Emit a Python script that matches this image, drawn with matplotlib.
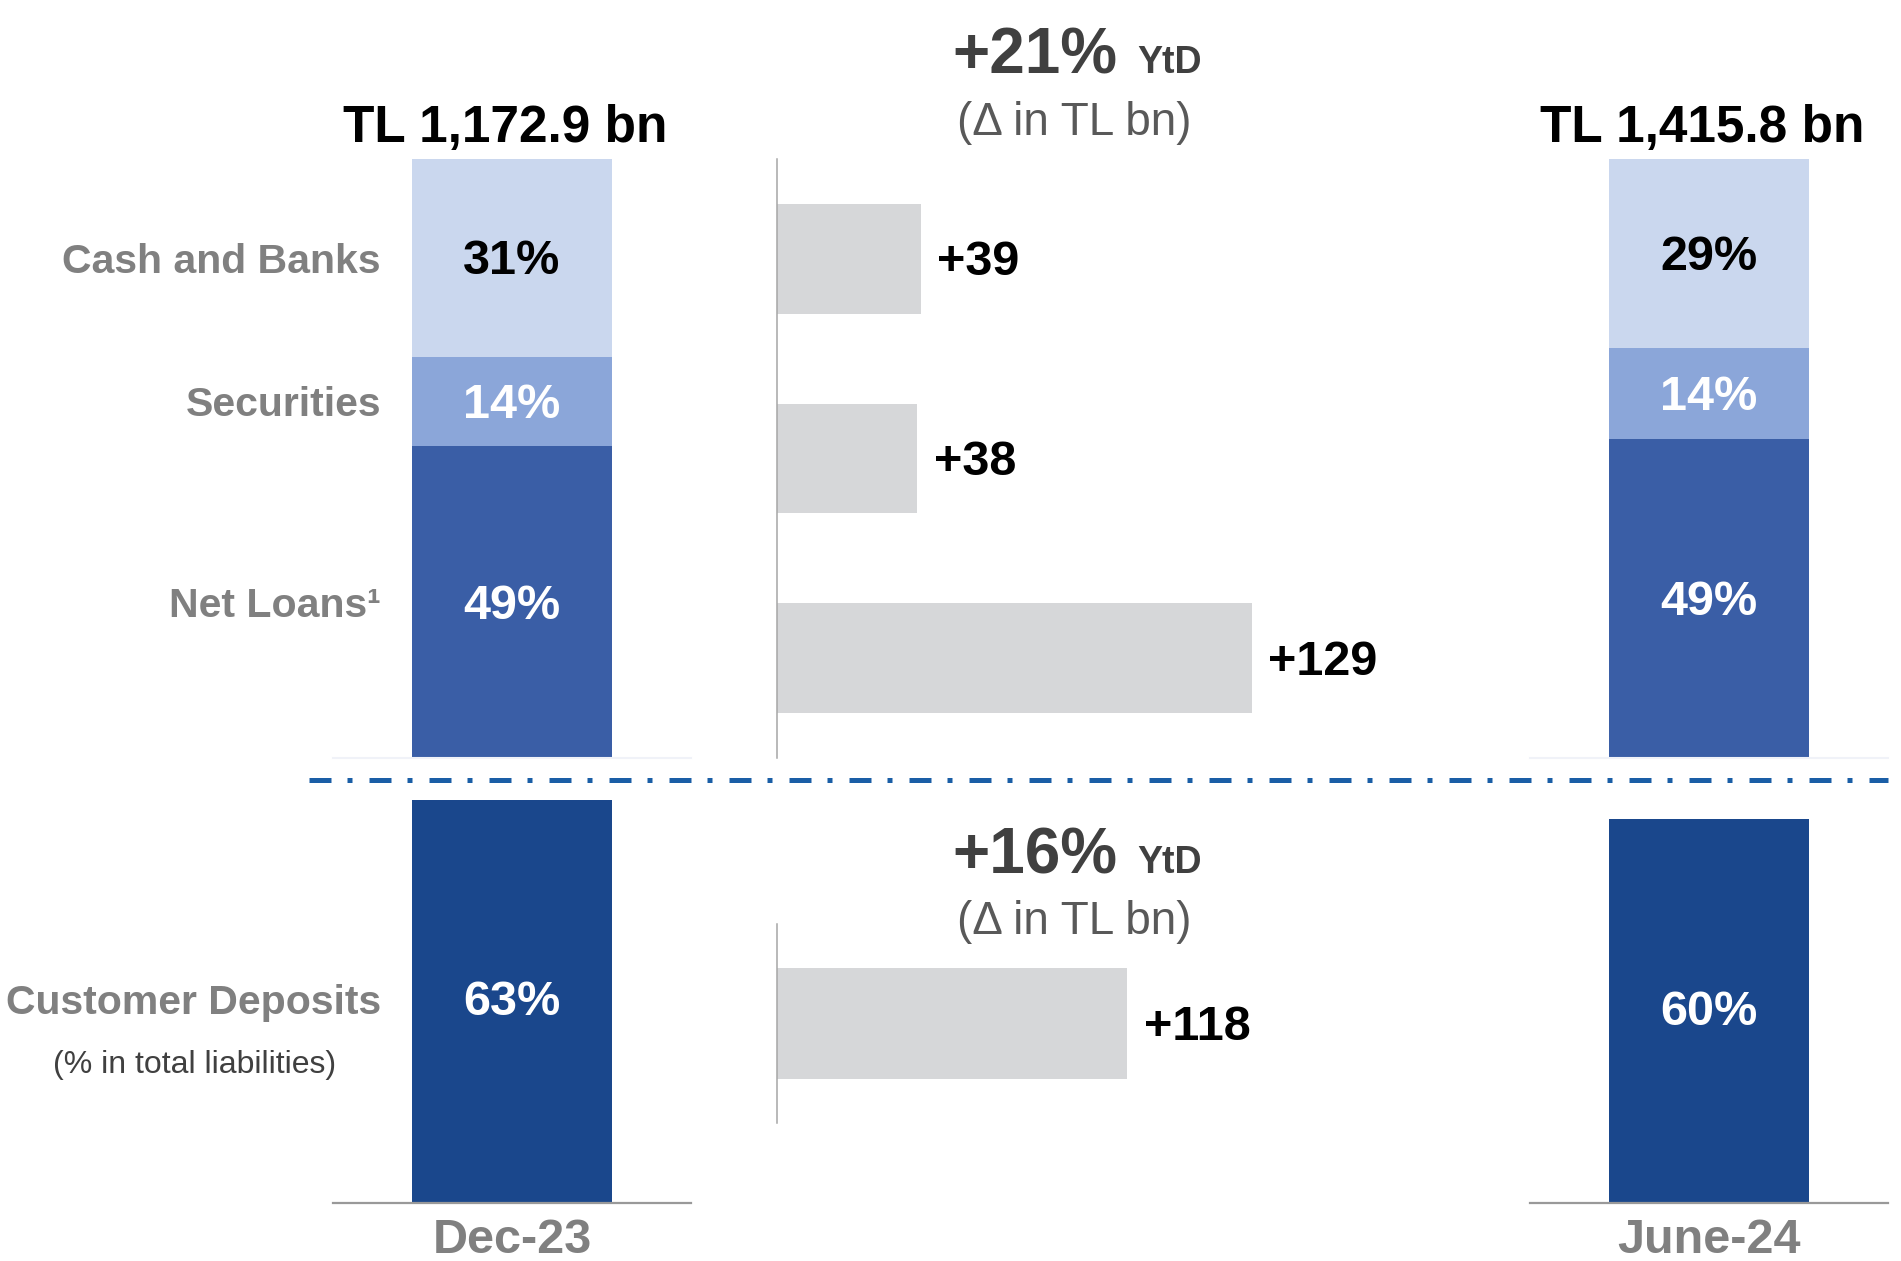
import matplotlib.pyplot as plt
from matplotlib.lines import Line2D

# values
periods = ['Dec-23', 'June-24']
totals = ['TL 1,172.9 bn', 'TL 1,415.8 bn']
asset_labels = ['Net Loans¹', 'Securities', 'Cash and Banks']   # bottom -> top
net_loans = [49, 49]
securities = [14, 14]
cash = [31, 29]
deposits = [63, 60]
asset_change = [39, 38, 129]        # cash, securities, loans (top -> bottom)
deposit_change = [118]
asset_growth = '+21%'
deposit_growth = '+16%'

W, H = 1901, 1261
fig = plt.figure(figsize=(W / 100, H / 100), dpi=100)

FONT = ['Liberation Sans', 'DejaVu Sans']

seg_colors = ['#3A5EA6', '#8BA6D9', '#CAD7EE']
seg_text = ['white', 'white', 'black']
dep_color = '#1A478C'
delta_color = '#D6D7D9'
label_gray = '#808080'
DY = -3  # nudge numbers down a bit (points)


def box(x0, y0, x1, y1):
    # pixel box (top-left origin) -> figure fraction rect
    return [x0 / W, 1 - y1 / H, (x1 - x0) / W, (y1 - y0) / H]


def clean(ax, keep=()):
    for name, sp in ax.spines.items():
        sp.set_visible(name in keep)
    ax.set_xticks([])
    ax.set_yticks([])


# upper stacked bars (asset mix)
for i, x0 in enumerate([333, 1530]):
    ax = fig.add_axes(box(x0, 159, x0 + 358, 758))
    vals = [net_loans[i], securities[i], cash[i]]
    bottom = 0
    for v, c, tc, lab in zip(vals, seg_colors, seg_text, asset_labels):
        ax.bar(0.5, v, width=0.56, bottom=bottom, color=c)
        ax.annotate(f'{v}%', xy=(0.5, bottom + v / 2), xytext=(0, DY),
                    textcoords='offset points', ha='center', va='center',
                    fontsize=35, fontweight='bold', color=tc, family=FONT)
        if i == 0:
            ax.annotate(lab, xy=(0.134, bottom + v / 2),
                        xycoords=ax.get_yaxis_transform(),
                        xytext=(0, DY), textcoords='offset points',
                        ha='right', va='center', fontsize=29.5,
                        fontweight='bold', color=label_gray, family=FONT)
        bottom += v
    ax.set_xlim(0, 1)
    ax.set_ylim(0, bottom)
    clean(ax, keep=('bottom',))
    ax.spines['bottom'].set_color('#F0F2F8')
    ax.spines['bottom'].set_linewidth(1.5)
    ax.annotate(totals[i], xy=(0.5, 1), xycoords='axes fraction',
                xytext=(-5, 12), textcoords='offset points',
                ha='center', va='baseline', fontsize=37, fontweight='bold',
                color='black', family=FONT)

# lower bars (customer deposits)
for i, x0 in enumerate([333, 1530]):
    ax = fig.add_axes(box(x0, 784, x0 + 358, 1203))
    ax.bar(0.5, deposits[i], width=0.56, color=dep_color)
    ax.annotate(f'{deposits[i]}%', xy=(0.5, deposits[i] / 2), xytext=(0, -1),
                textcoords='offset points', ha='center', va='center',
                fontsize=35, fontweight='bold', color='white', family=FONT)
    ax.set_xlim(0, 1)
    ax.set_ylim(0, 65.5)
    clean(ax, keep=('bottom',))
    ax.spines['bottom'].set_color('#999999')
    ax.spines['bottom'].set_linewidth(1.6)
    ax.annotate(periods[i], xy=(0.5, 0), xycoords='axes fraction',
                xytext=(0, -11), textcoords='offset points',
                ha='center', va='top', fontsize=35, fontweight='bold',
                color=label_gray, family=FONT)
    if i == 0:
        ax.annotate('Customer Deposits', xy=(0.134, deposits[i] / 2),
                    xycoords=ax.get_yaxis_transform(),
                    xytext=(0, -1), textcoords='offset points',
                    ha='right', va='center', fontsize=29.5,
                    fontweight='bold', color=label_gray, family=FONT)
        ax.annotate('(% in total liabilities)', xy=(-0.388, deposits[i] / 2),
                    xycoords=ax.get_yaxis_transform(),
                    xytext=(0, -46), textcoords='offset points',
                    ha='center', va='center', fontsize=23, color='#404040',
                    family=FONT)

# middle: YtD change in TL bn
axm = fig.add_axes(box(777, 159, 1400, 758))
ypos = list(range(len(asset_change)))
axm.barh(ypos, asset_change, height=0.55, color=delta_color)
for y, v in zip(ypos, asset_change):
    axm.annotate(f'+{v}', xy=(v, y), xytext=(12, DY), textcoords='offset points',
                 ha='left', va='center', fontsize=35, fontweight='bold',
                 color='black', family=FONT)
axm.set_ylim(len(asset_change) - 0.5, -0.5)
axm.set_xlim(0, 169.3)
clean(axm, keep=('left',))
axm.spines['left'].set_color('#A6A6A6')
axm.spines['left'].set_linewidth(1.1)

axd = fig.add_axes(box(777, 924, 1400, 1123))
axd.barh([0], deposit_change, height=0.56, color=delta_color)
axd.annotate(f'+{deposit_change[0]}', xy=(deposit_change[0], 0), xytext=(12, DY),
             textcoords='offset points', ha='left', va='center', fontsize=35,
             fontweight='bold', color='black', family=FONT)
axd.set_ylim(-0.5, 0.5)
axd.set_xlim(0, 209.8)
clean(axd, keep=('left',))
axd.spines['left'].set_color('#A6A6A6')
axd.spines['left'].set_linewidth(1.1)

# growth headers
for growth, base, sub in [(asset_growth, 73, 123), (deposit_growth, 873, 922)]:
    fig.text(952 / W, 1 - base / H, growth, ha='left', va='baseline',
             fontsize=46, fontweight='bold', color='#404040', family=FONT)
    fig.text(1137 / W, 1 - base / H, 'YtD', ha='left', va='baseline',
             fontsize=27, fontweight='bold', color='#404040', family=FONT)
    fig.text(1074 / W, 1 - sub / H, '(Δ in TL bn)', ha='center', va='center',
             fontsize=33, color='#595959', family=FONT)

# dash-dot separator between assets and deposits
fig.add_artist(Line2D([309 / W, 1888 / W], [1 - 780 / H, 1 - 780 / H],
                      transform=fig.transFigure, color='#1A5EA6', lw=3.6,
                      dashes=(4.4, 3.2, 1.0, 3.4), solid_capstyle='butt',
                      dash_capstyle='butt'))

fig.savefig('out.png', dpi=100, facecolor='white')
